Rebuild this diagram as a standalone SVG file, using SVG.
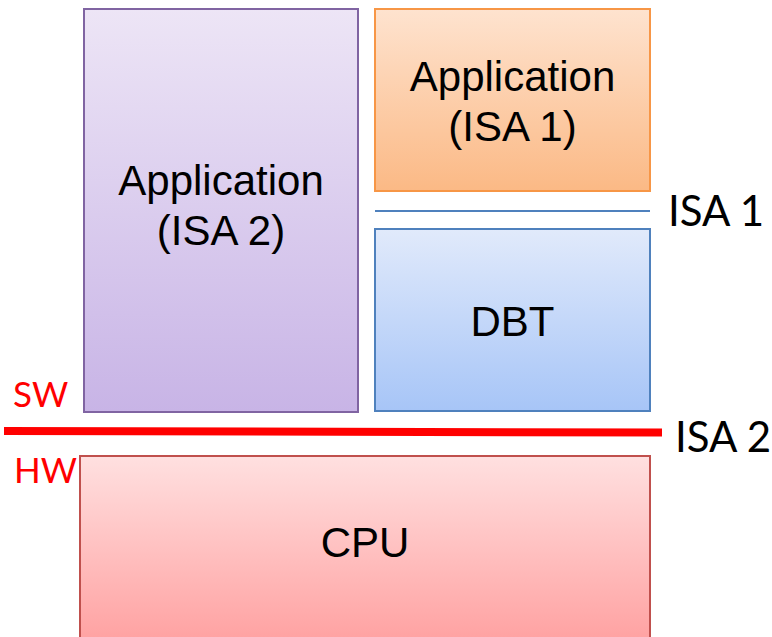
<svg xmlns="http://www.w3.org/2000/svg" width="772" height="637" viewBox="0 0 772 637">
  <defs>
    <linearGradient id="gPurple" x1="0" y1="0" x2="0" y2="1">
      <stop offset="0" stop-color="#EDE5F6"/>
      <stop offset="1" stop-color="#C8B4E6"/>
    </linearGradient>
    <linearGradient id="gOrange" x1="0" y1="0" x2="0" y2="1">
      <stop offset="0" stop-color="#FEE3CF"/>
      <stop offset="1" stop-color="#FBB985"/>
    </linearGradient>
    <linearGradient id="gBlue" x1="0" y1="0" x2="0" y2="1">
      <stop offset="0" stop-color="#E1EAFB"/>
      <stop offset="1" stop-color="#A7C5F7"/>
    </linearGradient>
    <linearGradient id="gRed" gradientUnits="userSpaceOnUse" x1="0" y1="456" x2="0" y2="640">
      <stop offset="0" stop-color="#FFE0E0"/>
      <stop offset="1" stop-color="#FFA2A2"/>
    </linearGradient>
  </defs>
  <style>
    .box { stroke-width: 2; }
    .lbl { font-family: "Liberation Sans", Arial, sans-serif; font-size: 42px; fill: #000; text-anchor: middle; }
    .isa { font-family: Lato, "Open Sans", sans-serif; font-size: 42px; fill: #000; }
    .side { font-family: Lato, "Open Sans", sans-serif; font-size: 35px; fill: #FF0000; }
  </style>
  <rect width="772" height="637" fill="#FFFFFF"/>

  <g id="app-isa2">
    <rect class="box" x="84" y="9" width="274" height="403" fill="url(#gPurple)" stroke="#8064A2"/>
    <text class="lbl" x="221" y="195">Application</text>
    <text class="lbl" x="221" y="245">(ISA 2)</text>
  </g>

  <g id="app-isa1">
    <rect class="box" x="375" y="9" width="275" height="182" fill="url(#gOrange)" stroke="#F79646"/>
    <text class="lbl" x="512.5" y="91">Application</text>
    <text class="lbl" x="512.5" y="141">(ISA 1)</text>
  </g>

  <g id="dbt">
    <rect class="box" x="375" y="229" width="275" height="182" fill="url(#gBlue)" stroke="#4F81BD"/>
    <text class="lbl" x="512.5" y="336">DBT</text>
  </g>

  <g id="cpu">
    <rect class="box" x="80" y="456" width="570" height="200" fill="url(#gRed)" stroke="#C0504D"/>
    <text class="lbl" x="365" y="557">CPU</text>
  </g>

  <g id="connectors">
    <line x1="375" y1="211" x2="650" y2="211" stroke="#4F81BD" stroke-width="2"/>
    <line x1="4" y1="431" x2="662" y2="432.5" stroke="#FF0000" stroke-width="8"/>
  </g>

  <g id="labels">
    <text class="isa" x="668" y="226">ISA 1</text>
    <text class="isa" x="675" y="452">ISA 2</text>
    <text class="side" x="13" y="407">SW</text>
    <text class="side" x="14" y="483">HW</text>
  </g>
</svg>
